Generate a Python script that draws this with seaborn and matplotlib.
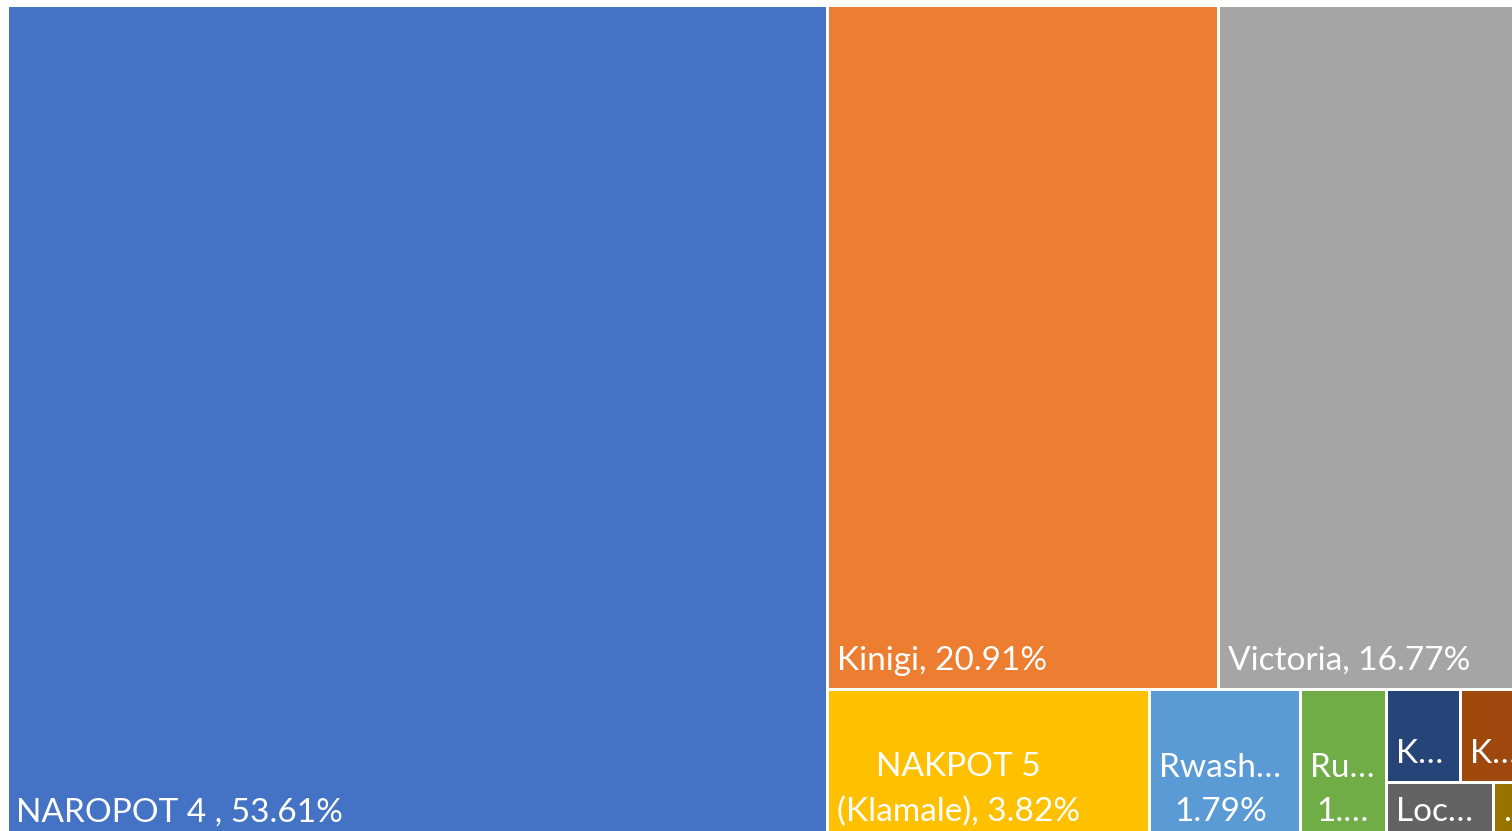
import matplotlib
matplotlib.use("Agg")
import matplotlib.pyplot as plt
import seaborn as sns
from matplotlib.patches import Rectangle

# ---- data ----
categories = ["NAROPOT 4 ", "Kinigi", "Victoria", "NAKPOT 5 (Klamale)", "Rwash…",
              "Ru…", "K…", "K…", "Loc…", "…"]
values = [53.61, 20.91, 16.77, 3.82, 1.79, 1.01, 0.54, 0.52, 0.49, 0.17]
labels = ["NAROPOT 4 , 53.61%", "Kinigi, 20.91%", "Victoria, 16.77%",
          "NAKPOT 5\n(Klamale), 3.82%", "Rwash…\n1.79%", "Ru…\n1.…",
          "K…", "K…", "Loc…", "…"]
colors = ["#4472C4", "#ED7D31", "#A5A5A5", "#FFC000", "#5B9BD5",
          "#70AD47", "#264478", "#9E480E", "#636363", "#997300"]

sns.set_theme(style="white")
plt.rcParams["font.family"] = ["Lato", "DejaVu Sans"]
palette = sns.color_palette(colors)

# ---- squarified-style layout ----
def worst(row, side):
    t = sum(row) / side
    r = []
    for a in row:
        l = a / t
        r.append(max(l / t, t / l))
    return max(r)

def layout(areas, x, y, w, h, limit=2.3):
    rects = []
    i = 0
    while i < len(areas):
        side = min(w, h)
        row = [areas[i]]
        cur = worst(row, side)
        j = i + 1
        while j < len(areas):
            cand = worst(row + [areas[j]], side)
            if cand <= max(cur, limit):
                row.append(areas[j])
                cur = cand
                j += 1
            else:
                break
        s = sum(row)
        if w >= h:  # column on the left
            t = s / h
            yy = y
            for a in row:
                hh = a / t
                rects.append((x, yy, t, hh))
                yy += hh
            x += t
            w -= t
        else:  # row along the top
            t = s / w
            xx = x
            for a in row:
                ww = a / t
                rects.append((xx, y, ww, t))
                xx += ww
            y += t
            h -= t
        i = j
    return rects

FW, FH = 1512, 831
X0, Y0 = 6.5, 4.5
W, H = 1524.4, 835.6

total = sum(values)
areas = [v / total * W * H for v in values]
rects = layout(areas, 0, 0, W, H)

fig = plt.figure(figsize=(FW / 100, FH / 100), dpi=100)
fig.patch.set_facecolor("white")
ax = fig.add_axes([X0 / FW, 1 - (Y0 + H) / FH, W / FW, H / FH])
ax.set_xlim(0, W)
ax.set_ylim(H, 0)
ax.axis("off")

for (rx, ry, rw, rh), c, lab in zip(rects, palette, labels):
    ax.add_patch(Rectangle((rx, ry), rw, rh, facecolor=c, edgecolor="white",
                           linewidth=3 * 72 / 100))
    ax.text(rx + 10, ry + rh - 13, lab, ha="left", va="bottom",
            multialignment="center", color="white", fontsize=24,
            linespacing=1.6, clip_on=False)

fig.savefig("out.png", dpi=100)
